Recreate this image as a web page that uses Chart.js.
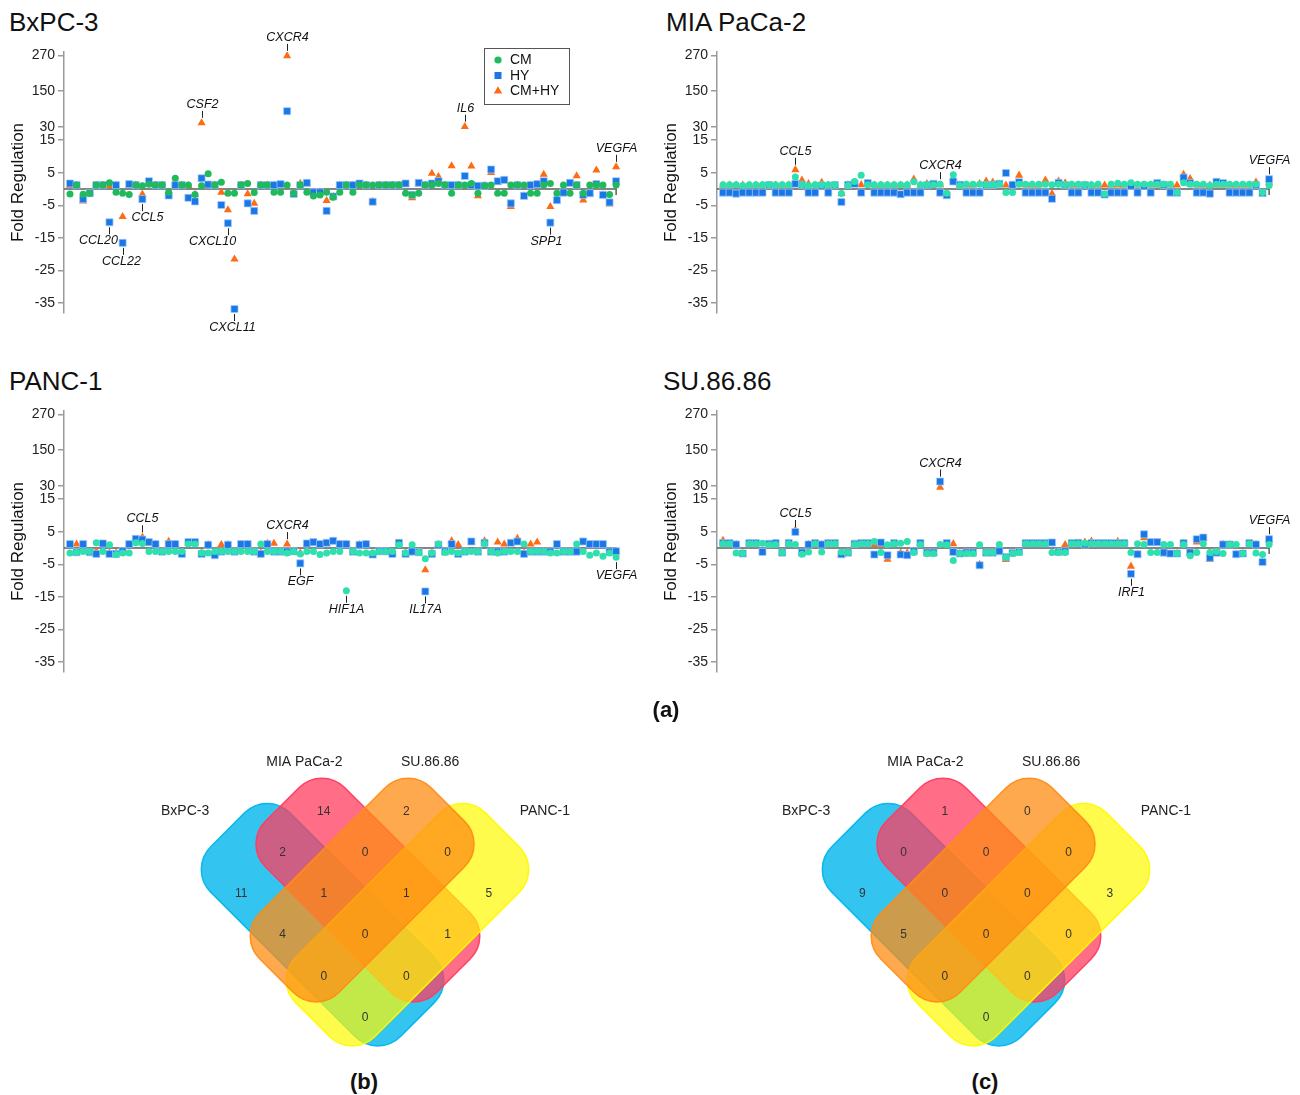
<!DOCTYPE html>
<html>
<head>
<meta charset="utf-8">
<script src="https://cdn.jsdelivr.net/npm/chart.js@4.4.1/dist/chart.umd.min.js"></script>
<style>
  html, body { margin: 0; padding: 0; background: #fff; }
  body { width: 1300px; height: 1095px; position: relative; overflow: hidden; font-family: "Liberation Sans", Arial, sans-serif; }
  .box { position: absolute; }
  .ttl { position: absolute; font-size: 26px; line-height: 26px; color: #111; white-space: nowrap; }
  .cap { position: absolute; font-size: 22px; line-height: 22px; font-weight: bold; color: #111; transform: translateX(-50%); }
</style>
</head>
<body>
<div class="ttl" style="left:9px;top:9px">BxPC-3</div>
<div class="ttl" style="left:666px;top:9px">MIA PaCa-2</div>
<div class="ttl" style="left:9px;top:368px">PANC-1</div>
<div class="ttl" style="left:663px;top:368px">SU.86.86</div>

<div class="box" style="left:0;top:0;width:650px;height:345px"><canvas id="bxpc"></canvas></div>
<div class="box" style="left:653px;top:0;width:650px;height:345px"><canvas id="mia"></canvas></div>
<div class="box" style="left:0;top:359px;width:650px;height:345px"><canvas id="panc"></canvas></div>
<div class="box" style="left:653px;top:359px;width:650px;height:345px"><canvas id="su"></canvas></div>

<div class="cap" style="left:666px;top:699px">(a)</div>

<div class="box" style="left:150px;top:745px;width:430px;height:310px"><canvas id="vennB"></canvas></div>
<div class="box" style="left:771px;top:745px;width:430px;height:310px"><canvas id="vennC"></canvas></div>

<div class="cap" style="left:364px;top:1071px">(b)</div>
<div class="cap" style="left:985px;top:1071px">(c)</div>

<script>
Chart.defaults.font.family = '"Liberation Sans", Arial, sans-serif';
Chart.defaults.color = '#222';

// genes on the array, in plot order
const genes = ['AICDA', 'APCS', 'BCL2L1', 'C3', 'CCL18', 'CCL2', 'CCL20', 'CCL21', 'CCL22', 'CCL28',
  'CCL4', 'CCL5', 'CCR2', 'CCR4', 'CCR7', 'CD274', 'CD40LG', 'CD8A', 'CEBPB', 'CSF1',
  'CSF2', 'CSF3', 'CTLA4', 'CXCL1', 'CXCL10', 'CXCL11', 'CXCL2', 'CXCL5', 'CXCL8', 'CXCL9',
  'CXCR1', 'CXCR2', 'CXCR3', 'CXCR4', 'CYBB', 'EGF', 'FASLG', 'FOXP3', 'GZMA', 'GZMB',
  'HAMP', 'HGF', 'HIF1A', 'HLA-A', 'HLA-B', 'HRAS', 'ICOSLG', 'IDO1', 'IFNA1', 'IFNG',
  'IL10', 'IL12A', 'IL12B', 'IL15', 'IL17A', 'IL18', 'IL1A', 'IL1B', 'IL2', 'IL4',
  'IL6', 'IL7', 'IRF1', 'KITLG', 'KRAS', 'MICA', 'MICB', 'MIF', 'MYC', 'NFKB1',
  'NOS2', 'PTGS2', 'SOCS3', 'SPP1', 'STAT1', 'STAT3', 'TBX21', 'TGFB1', 'TLR2', 'TLR4',
  'TNF', 'TNFSF10', 'TP53', 'VEGFA'];

const foldTicks = [-35, -25, -15, -5, 5, 15, 30, 150, 270];

// BxPC-3
const bxpcCM = [-1.5, 1.2, -1.6, -1.3, 1.2, 1.2, 1.9, -1.0, -1.3, -1.7,
  1.2, 1.0, 1.5, 1.2, 1.2, -1.0, 3.3, 1.2, 1.2, -1.7,
  1.0, 4.7, 1.2, 2.1, -1.3, -1.3, 1.2, 1.7, -1.1, 1.2,
  1.2, -1.0, -1.0, 1.2, -1.3, 1.2, -1.0, -2.1, -1.8, -1.0,
  -2.5, -1.0, 1.2, -1.0, 1.2, 1.2, 1.2, 1.2, 1.2, 1.2,
  1.2, -1.3, -1.8, -1.3, 1.2, 1.2, 1.7, 1.2, -1.3, 1.2,
  1.2, 1.7, -1.3, 1.0, 1.2, -1.3, -1.3, 1.2, 1.2, 1.2,
  -1.3, -1.3, 1.2, 1.7, -1.3, 1.2, -1.3, 1.2, -1.3, 1.2,
  1.2, 1.2, -1.7, 1.2];
const bxpcHY = [1.7, 1.2, -3.1, -1.3, 1.2, 1.2, -10.2, 1.2, -16.5, 1.5,
  1.2, -3.1, 2.4, 1.2, 1.2, -2.0, 1.2, 1.2, -2.7, -3.8,
  3.3, 1.4, 1.2, -4.9, -10.5, -36.8, 1.2, -4.4, -6.7, 1.2,
  1.2, 1.2, 1.5, 83, -1.5, 1.2, 1.9, -1.0, -1.0, -6.7,
  -2.3, 1.2, 1.2, 1.2, 1.7, 1.2, -3.9, 1.2, 1.2, 1.2,
  1.2, 1.7, -1.8, 1.9, 1.2, 1.7, 2.4, 1.2, 1.2, 1.2,
  4.0, 1.2, 1.0, 1.0, 6.0, 2.4, 2.8, -4.4, 1.2, -2.1,
  1.2, 1.5, 2.4, -10.3, -3.4, -1.1, 1.9, 1.2, -1.8, -1.3,
  1.5, -1.8, -4.1, 2.4];
const bxpcCMHY = [1.0, 1.0, -3.7, -1.3, 1.0, 1.2, 1.0, 1.2, -8.5, 1.2,
  1.2, -1.6, 1.5, 1.2, 1.2, -1.0, 1.2, 1.2, 1.0, -1.7,
  44, 1.2, 1.2, -1.0, -6.4, -21.5, 1.2, -1.5, -4.4, 1.2,
  1.2, 1.2, 1.2, 268, -1.5, 1.7, 1.5, -1.0, -1.0, -3.6,
  -2.3, 1.2, 1.2, 1.2, 1.2, 1.2, -3.9, 1.2, 1.2, 1.2,
  1.2, 1.5, -2.7, 1.5, 1.2, 4.8, 3.8, 1.2, 7.1, 1.2,
  31, 7.0, -2.1, 1.0, 5.0, 2.0, 2.5, -5.4, 1.2, -2.1,
  1.2, 1.2, 4.5, -5.4, -3.4, -1.1, 1.5, 4.0, -3.4, -1.3,
  5.8, -1.8, -4.6, 6.8];

// MIA PaCa-2
const miaCM = [1.3, 1.3, 1.3, 1.1, 1.3, 1.3, 1.3, 1.3, 1.3, 1.3,
  1.3, 3.7, 1.3, 1.1, 1.3, 1.3, 1.3, 1.3, -1.4, 1.1,
  2.3, 4.2, 1.3, 1.3, 1.3, 1.3, 1.3, 1.3, 1.3, 2.2,
  1.3, 1.3, 1.3, 1.5, -1.3, 4.4, 1.1, 1.5, 1.5, 1.5,
  1.3, 1.3, 1.5, -1.1, -1.1, 1.5, 1.5, 1.5, 1.5, 1.5,
  1.3, 1.5, 1.3, 1.5, 1.5, 1.3, 1.3, 1.5, -1.5, 1.5,
  1.8, 1.5, 1.9, 1.5, 1.5, 1.5, 1.5, 1.5, 1.5, -1.1,
  1.9, 1.5, 1.5, 1.5, 1.1, 1.5, 1.5, 1.5, 1.5, 1.5,
  1.5, 1.5, -1.1, 1.1];
const miaHY = [-1.1, -1.1, -1.4, -1.1, -1.1, -1.1, -1.1, 1.2, -1.1, -1.1,
  -1.1, 1.6, 1.3, -1.1, -1.1, 1.1, -1.1, 1.2, -4.0, 1.3,
  1.6, -1.1, 1.8, -1.1, -1.1, -1.1, -1.1, -1.6, -1.1, -1.1,
  -1.1, 1.2, 1.6, -1.1, -1.9, 2.3, 1.3, -1.1, -1.1, -1.1,
  1.2, 1.3, 1.6, 4.9, 1.3, 2.1, -1.1, -1.1, -1.1, -1.1,
  -3.0, 1.9, 1.2, -1.1, -1.1, 1.2, -1.1, -1.1, -1.7, -1.1,
  -1.1, -1.1, 1.0, -1.1, 1.0, -1.1, 1.8, 1.3, -1.1, -1.1,
  3.5, 1.8, -1.1, -1.1, -1.4, 2.2, 1.8, -1.1, -1.1, -1.1,
  -1.1, 1.2, -1.2, 3.0];
const miaCMHY = [1.2, 1.2, 1.2, 1.2, 1.2, 1.2, 1.2, 1.2, 1.2, 1.2,
  1.2, 5.9, 2.7, 1.6, 1.2, 2.0, 1.2, 1.2, -1.4, 1.2,
  1.6, 1.3, 1.6, 1.2, 1.2, 1.2, 1.2, 1.2, 1.2, 3.0,
  1.2, 1.6, 1.4, 1.3, -1.2, 3.2, 1.2, 1.2, 1.2, 1.6,
  2.4, 2.1, 1.5, 1.2, 1.2, 4.2, 1.2, 1.2, 1.2, 2.7,
  -1.4, 2.4, 1.9, 1.2, 1.2, 1.2, 1.2, 1.2, 1.2, 1.2,
  1.2, 1.2, 1.2, 1.2, 1.2, 1.2, 1.2, 1.2, 1.2, 1.2,
  4.5, 3.2, 1.2, 1.2, 1.2, 1.2, 1.2, 1.2, 1.2, 1.2,
  1.2, 2.1, -1.6, 2.0];

// PANC-1
const pancCM = [-1.5, -1.3, -1.1, -1.1, 1.6, -1.1, 1.0, -2.0, -1.5, -1.5,
  1.6, 1.4, -1.1, -1.1, -1.1, -1.1, -1.1, -1.1, 1.2, 1.2,
  -1.5, -1.5, -1.1, -1.1, -1.1, -1.1, -1.1, -1.1, -1.1, 1.2,
  -1.1, -1.1, -1.1, -1.5, -1.1, -1.8, -1.1, -1.1, -2.0, -1.5,
  -1.1, -1.1, -13.1, -1.1, -1.5, -1.5, -1.5, -1.1, -1.1, -1.1,
  1.0, -1.5, 1.0, -1.3, -3.3, -1.5, 1.2, -1.3, -1.1, -1.5,
  -1.1, -1.1, -1.1, 1.4, -1.1, -1.5, -1.1, -1.1, -1.1, 1.2,
  -1.1, -1.1, -1.1, -1.5, -1.5, -1.1, -1.1, 1.2, -1.1, -2.2,
  -1.5, -2.5, -1.5, -2.8];
const pancHY = [1.2, -1.3, 1.2, -1.3, -1.8, 1.4, -1.8, -1.8, -1.0, 1.2,
  2.8, 2.6, 1.8, 1.2, -1.1, 1.2, 1.2, -1.8, 1.8, 1.8,
  -1.8, 1.0, -2.2, -1.1, 1.0, -1.1, 1.2, 1.2, -1.1, -1.8,
  1.2, -1.1, -1.1, -1.1, -1.0, -4.7, 1.4, 1.8, 1.2, 1.6,
  2.2, 1.2, 1.2, -1.1, 1.0, 1.2, -2.0, -1.0, -1.0, -1.8,
  1.6, -1.8, -1.1, -1.3, -13.3, -1.8, 1.0, -1.1, 1.2, -1.8,
  -1.1, 2.0, -1.1, 1.6, -1.1, -1.1, -1.1, 1.6, 2.0, -1.8,
  -1.1, -1.1, -1.1, -1.1, 1.2, -1.1, -1.1, -1.1, 2.0, 1.2,
  1.2, 1.2, -1.1, -1.0];
const pancCMHY = [1.1, 1.2, 1.1, -1.2, -1.0, 1.1, -1.5, -1.5, -1.1, 1.1,
  2.5, 3.3, 1.5, 1.1, -1.1, 2.0, 1.1, -1.5, 1.5, 1.5,
  -1.5, 1.0, -2.0, 1.0, 1.0, -1.1, 1.1, 1.1, -1.1, -1.5,
  1.4, 1.4, -1.1, 1.2, -1.0, -1.5, 1.2, 1.5, 1.1, 1.4,
  2.0, 1.2, 1.1, -1.1, 1.0, 1.1, -1.8, -1.0, -1.0, -1.5,
  1.4, -1.5, -1.1, -1.2, -6.7, -1.5, 1.0, -1.1, 2.2, 1.0,
  -1.1, 1.8, -1.1, 2.2, -1.1, 1.8, 1.2, 1.4, 2.9, -1.5,
  1.2, 1.8, -1.1, -1.1, 1.1, -1.1, -1.1, -1.1, 1.8, 1.1,
  1.1, 1.1, -1.1, -1.1];

// SU.86.86
const suCM = [1.3, 1.3, -1.5, -1.7, 1.3, 1.3, 1.5, 1.0, 1.1, -1.4,
  1.3, 1.1, -1.9, -1.2, 1.3, -1.2, 1.3, 1.3, -1.2, -1.4,
  1.1, 1.3, 1.3, 2.0, -1.4, 1.0, 1.3, 1.5, 2.0, -1.4,
  1.1, -1.7, -1.7, 1.1, 1.0, -3.8, -1.7, -1.7, -1.7, 1.0,
  -1.4, -1.4, 1.1, -2.8, -1.7, -1.4, 1.3, 1.3, 1.3, 1.3,
  -1.4, -1.4, -1.4, 1.3, 1.3, 1.5, 1.3, 1.3, 1.3, 1.3,
  1.3, 1.3, -1.4, 1.3, 1.1, -1.4, -1.4, 1.1, 1.1, -1.7,
  1.1, -2.4, -1.4, 1.3, -1.4, -1.1, -1.7, 1.1, 1.1, -1.7,
  1.3, -1.5, -2.0, 1.1];
const suHY = [1.5, 1.5, 1.1, -1.7, 1.5, 1.5, -1.2, 1.3, 1.5, -1.4,
  1.5, 4.9, -1.4, 1.1, 1.5, 1.1, 1.5, 1.5, -1.9, -1.4,
  1.3, 1.5, 1.5, -2.0, 1.7, -2.2, 1.5, -2.0, -2.2, -1.0,
  1.5, -1.4, -1.4, 45, 1.5, -1.2, -1.7, -1.4, -1.4, -5.3,
  -1.4, -1.4, -1.0, -2.8, -1.5, -1.2, 1.5, 1.5, 1.5, 1.5,
  1.7, -1.2, -1.0, 1.5, 1.6, 1.1, 1.5, 1.5, 1.5, 1.5,
  1.5, 1.5, -7.9, -1.9, 4.2, 1.8, 1.8, -1.4, -1.7, -1.7,
  1.5, -1.4, 2.7, 3.2, -3.0, -1.4, 1.1, 1.1, -1.9, -1.7,
  1.5, 1.1, -4.3, 2.7];
const suCMHY = [2.3, 1.4, 1.1, -1.7, 1.4, 1.4, -1.2, 1.2, 1.4, -1.4,
  1.4, 5.5, -1.4, 1.1, 1.4, 1.0, 1.4, 1.4, -2.2, -1.4,
  1.2, 1.4, 1.4, 1.0, 1.0, -3.5, 1.4, -1.5, -1.5, -1.0,
  1.4, -1.4, -1.4, 28.5, 1.3, 1.3, -1.7, -1.4, -1.4, -5.0,
  -1.4, -1.4, -1.0, -3.6, -1.5, -1.2, 1.4, 1.4, 1.4, 1.4,
  1.5, -1.2, 1.0, 1.4, 1.4, 1.8, 2.1, 1.4, 1.4, 1.4,
  2.0, 1.4, -5.6, -1.9, 3.1, 1.5, 1.6, -1.4, -1.9, -1.7,
  1.4, -1.4, 1.8, 3.0, -3.6, -1.4, 1.1, 1.1, -1.9, -1.7,
  1.4, 1.1, -4.5, 2.5];

// Venn: regions as membership of BxPC-3, MIA PaCa-2, SU.86.86, PANC-1
const vennSets = ['BxPC-3', 'MIA PaCa-2', 'SU.86.86', 'PANC-1'];
const vennRegions = ['1000', '0100', '0010', '0001', '1100', '1010', '1001', '0110',
  '0101', '0011', '1110', '1101', '1011', '0111', '1111'];
const vennCountsB = [11, 14, 2, 5, 2, 4, 0, 0, 1, 0, 1, 0, 0, 1, 0];
const vennCountsC = [9, 1, 0, 3, 0, 5, 0, 0, 0, 0, 0, 0, 0, 0, 0];

const HY_BLUE = '#1b77e6';
const CMHY_ORANGE = '#ff6a14';

// broken axis: linear up to 15, then compressed
function fold2axis(v) {
  if (v <= 15) return v;
  if (v <= 30) return 15 + (v - 15) * 4 / 15;
  return 19 + (v - 30) * 11 / 120;
}

const geneLabels = {
  id: 'geneLabels',
  afterDatasetsDraw(chart, args, opts) {
    const { ctx, scales: { x, y } } = chart;
    ctx.save();
    ctx.font = 'italic 12.5px "Liberation Sans", Arial, sans-serif';
    ctx.fillStyle = '#111';
    ctx.strokeStyle = '#222';
    ctx.lineWidth = 1;
    ctx.textAlign = 'center';
    ctx.textBaseline = 'middle';
    (opts.items || []).forEach(it => {
      const i = genes.indexOf(it.gene);
      const v = chart.data.datasets[it.s].data[i].y;
      const px = Math.round(x.getPixelForValue(i)) + 0.5;
      const py = y.getPixelForValue(v);
      const dir = it.pos === 'above' ? -1 : 1;
      ctx.beginPath();
      ctx.moveTo(px, py + dir * 5);
      ctx.lineTo(px, py + dir * 12);
      ctx.stroke();
      ctx.fillText(it.gene, px + (it.dx || 0), py + dir * 18.5);
    });
    ctx.restore();
  }
};

const foldLegend = {
  id: 'foldLegend',
  afterDraw(chart, args, opts) {
    if (!opts.show) return;
    const { ctx } = chart;
    const b = opts.box;
    ctx.save();
    ctx.fillStyle = '#fff';
    ctx.fillRect(b.x, b.y, b.w, b.h);
    ctx.strokeStyle = '#555';
    ctx.lineWidth = 1;
    ctx.strokeRect(b.x + 0.5, b.y + 0.5, b.w, b.h);
    ctx.font = '14px "Liberation Sans", Arial, sans-serif';
    ctx.textBaseline = 'middle';
    chart.data.datasets.slice(0, 3).forEach((ds, k) => {
      const mx = b.x + 14, my = b.y + 12 + k * 15.5;
      ctx.fillStyle = ds.backgroundColor;
      ctx.beginPath();
      if (ds.pointStyle === 'circle') ctx.arc(mx, my, 3.6, 0, Math.PI * 2);
      else if (ds.pointStyle === 'rect') ctx.rect(mx - 3.5, my - 3.5, 7, 7);
      else { ctx.moveTo(mx, my - 4.8); ctx.lineTo(mx + 4.2, my + 2.6); ctx.lineTo(mx - 4.2, my + 2.6); ctx.closePath(); }
      ctx.fill();
      ctx.fillStyle = '#111';
      ctx.fillText(ds.label, b.x + 26, my + 0.5);
    });
    ctx.restore();
  }
};

function foldPanel(id, cm, hy, cmhy, cmColor, labels, legend) {
  const toPts = vals => vals.map((v, i) => ({ x: i, y: fold2axis(v) }));
  const last = genes.length - 1;
  return new Chart(document.getElementById(id), {
    type: 'scatter',
    data: {
      datasets: [
        { label: 'CM', data: toPts(cm), pointStyle: 'circle', pointRadius: 3.5, backgroundColor: cmColor, borderWidth: 0, order: 1 },
        { label: 'HY', data: toPts(hy), pointStyle: 'rect', pointRadius: 5, backgroundColor: HY_BLUE, borderColor: 'rgba(160,205,255,0.9)', borderWidth: 0.8, order: 2 },
        { label: 'CM+HY', data: toPts(cmhy), pointStyle: 'triangle', pointRadius: 4.7, backgroundColor: CMHY_ORANGE, borderWidth: 0, order: 3 },
        { label: 'zero', data: [{ x: -0.91, y: 0 }, { x: last, y: 0 }, { x: last, y: -1.8 }], showLine: true, pointRadius: 0, borderColor: '#5e5e5e', borderWidth: 1.5, order: 4 }
      ]
    },
    options: {
      responsive: true,
      maintainAspectRatio: false,
      animation: false,
      events: [],
      layout: { padding: { top: 52, right: 27.3, bottom: 32, left: 0 } },
      scales: {
        x: { type: 'linear', min: -0.91, max: 84, display: false },
        y: {
          type: 'linear', min: -38, max: 42,
          afterBuildTicks: s => { s.ticks = foldTicks.map(v => ({ value: fold2axis(v) })); },
          afterFit: s => { s.width = 64; },
          ticks: { autoSkip: false, padding: 3, color: '#222', font: { size: 14 }, callback: (v, i) => String(foldTicks[i]) },
          grid: { drawOnChartArea: false, drawTicks: true, tickLength: 6, color: '#9a9a9a', lineWidth: 1.5 },
          border: { display: true, color: '#9a9a9a', width: 1.5 },
          title: { display: true, text: 'Fold Regulation', color: '#111', font: { size: 17 }, padding: { top: 8, bottom: 0 } }
        }
      },
      plugins: {
        legend: { display: false },
        tooltip: { enabled: false },
        geneLabels: { items: labels },
        foldLegend: { show: !!legend, box: legend }
      }
    },
    plugins: [geneLabels, foldLegend]
  });
}

foldPanel('bxpc', bxpcCM, bxpcHY, bxpcCMHY, '#1fba5c', [
  { gene: 'CXCR4', s: 2, pos: 'above' },
  { gene: 'CSF2', s: 2, pos: 'above' },
  { gene: 'IL6', s: 2, pos: 'above' },
  { gene: 'VEGFA', s: 2, pos: 'above' },
  { gene: 'CCL20', s: 1, pos: 'below', dx: -11 },
  { gene: 'CCL22', s: 1, pos: 'below', dx: -2 },
  { gene: 'CCL5', s: 1, pos: 'below', dx: 5 },
  { gene: 'CXCL10', s: 1, pos: 'below', dx: -16 },
  { gene: 'CXCL11', s: 1, pos: 'below', dx: -2 },
  { gene: 'SPP1', s: 1, pos: 'below', dx: -4 }
], { x: 484, y: 48, w: 85, h: 56 });

foldPanel('mia', miaCM, miaHY, miaCMHY, '#2ee0ae', [
  { gene: 'CCL5', s: 2, pos: 'above' },
  { gene: 'CXCR4', s: 0, pos: 'above' },
  { gene: 'VEGFA', s: 1, pos: 'above' }
]);

foldPanel('panc', pancCM, pancHY, pancCMHY, '#2ee0ae', [
  { gene: 'CCL5', s: 2, pos: 'above' },
  { gene: 'CXCR4', s: 2, pos: 'above' },
  { gene: 'EGF', s: 1, pos: 'below' },
  { gene: 'HIF1A', s: 0, pos: 'below' },
  { gene: 'IL17A', s: 1, pos: 'below' },
  { gene: 'VEGFA', s: 0, pos: 'below' }
]);

foldPanel('su', suCM, suHY, suCMHY, '#2ee0ae', [
  { gene: 'CCL5', s: 1, pos: 'above' },
  { gene: 'CXCR4', s: 1, pos: 'above' },
  { gene: 'IRF1', s: 1, pos: 'below' },
  { gene: 'VEGFA', s: 1, pos: 'above' }
]);

// ---- Venn diagrams ----
// cell index along each diagonal from set membership
const qOf = (b, m) => (b && !m ? 1 : b && m ? 0 : m ? -1 : -2);
const pOf = (s, p) => (s && !p ? -1 : s && p ? 0 : p ? 1 : -2);

const VENN_WID = 1.92, VENN_RAD = 0.55;
const vennShapes = [
  { along: 'p', p: -0.64, q: 0.39, len: 4.6, rgb: [0, 182, 236], a: 0.8 },
  { along: 'p', p: -0.51, q: -0.58, len: 4.15, rgb: [255, 60, 95], a: 0.75 },
  { along: 'q', p: 0.39, q: -0.64, len: 4.6, rgb: [255, 250, 0], a: 0.7 },
  { along: 'q', p: -0.58, q: -0.51, len: 4.15, rgb: [255, 140, 20], a: 0.75 }
];
const vennLabelAt = [[-4.36, -3.01], [-1.47, -4.2], [1.58, -4.2], [4.36, -3.01]];

function roundRectPath(ctx, x, y, w, h, r) {
  ctx.beginPath();
  ctx.moveTo(x + r, y);
  ctx.arcTo(x + w, y, x + w, y + h, r);
  ctx.arcTo(x + w, y + h, x, y + h, r);
  ctx.arcTo(x, y + h, x, y, r);
  ctx.arcTo(x, y, x + w, y, r);
  ctx.closePath();
}

const vennDraw = {
  id: 'vennDraw',
  beforeDatasetsDraw(chart) {
    const { ctx, scales: { x, y } } = chart;
    const ux = x.getPixelForValue(1) - x.getPixelForValue(0);
    const uy = y.getPixelForValue(1) - y.getPixelForValue(0);
    const cell = Math.hypot(ux, uy);
    const W = VENN_WID * cell, R = VENN_RAD * cell;
    vennShapes.forEach(s => {
      const L = s.len * cell;
      ctx.save();
      ctx.translate(x.getPixelForValue(s.p - s.q), y.getPixelForValue(s.p + s.q));
      ctx.rotate(Math.atan2(uy, ux));
      if (s.along === 'p') roundRectPath(ctx, -L / 2, -W / 2, L, W, R);
      else roundRectPath(ctx, -W / 2, -L / 2, W, L, R);
      ctx.fillStyle = `rgba(${s.rgb.join(',')},${s.a})`;
      ctx.fill();
      ctx.strokeStyle = `rgba(${s.rgb.join(',')},0.95)`;
      ctx.lineWidth = 1.5;
      ctx.stroke();
      ctx.restore();
    });
  },
  afterDatasetsDraw(chart) {
    const { ctx, scales: { x, y } } = chart;
    ctx.save();
    ctx.textAlign = 'center';
    ctx.textBaseline = 'middle';
    ctx.font = '12px "Liberation Sans", Arial, sans-serif';
    ctx.fillStyle = '#333';
    chart.data.datasets[0].data.forEach(pt => {
      ctx.fillText(String(pt.n), x.getPixelForValue(pt.x), y.getPixelForValue(pt.y));
    });
    ctx.font = '14px "Liberation Sans", Arial, sans-serif';
    ctx.fillStyle = '#222';
    vennSets.forEach((name, k) => {
      ctx.fillText(name, x.getPixelForValue(vennLabelAt[k][0]), y.getPixelForValue(vennLabelAt[k][1]));
    });
    ctx.restore();
  }
};

function vennChart(id, counts) {
  const pts = vennRegions.map((code, k) => {
    const [b, m, s, p] = code.split('').map(Number);
    const pp = pOf(s, p), qq = qOf(b, m);
    return { x: pp - qq, y: pp + qq, n: counts[k] };
  });
  return new Chart(document.getElementById(id), {
    type: 'scatter',
    data: { datasets: [{ label: 'regions', data: pts, pointRadius: 0 }] },
    options: {
      responsive: true,
      maintainAspectRatio: false,
      animation: false,
      events: [],
      layout: { padding: 0 },
      scales: {
        x: { display: false, min: -5.212, max: 5.212 },
        y: { display: false, min: -4.606, max: 2.909, reverse: true }
      },
      plugins: { legend: { display: false }, tooltip: { enabled: false } }
    },
    plugins: [vennDraw]
  });
}

vennChart('vennB', vennCountsB);
vennChart('vennC', vennCountsC);
</script>
</body>
</html>
